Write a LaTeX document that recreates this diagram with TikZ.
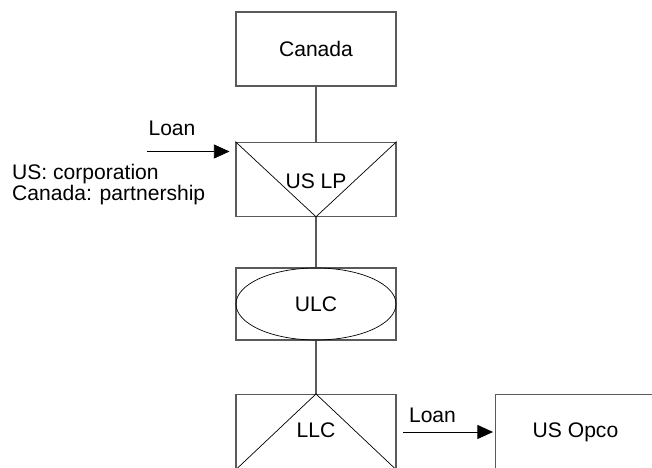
\documentclass[tikz,border=0pt]{standalone}
\usepackage{fontspec}
\setmainfont{Liberation Sans}
\usetikzlibrary{arrows.meta}
\tikzset{>={Triangle[length=0.31cm,width=0.28cm]}}
\definecolor{boxgray}{RGB}{90,90,90}
\tikzstyle{entity}=[draw=boxgray,line width=0.6pt,minimum width=3.2cm,minimum height=1.48cm,inner sep=0pt]
\tikzstyle{link}=[draw=boxgray,line width=0.6pt]
\tikzstyle{thinline}=[draw=black,line width=0.4pt]
\tikzstyle{loanline}=[draw=black,line width=0.4pt,->]

\begin{document}
\begin{tikzpicture}[font=\fontsize{12}{11}\selectfont]
  \useasboundingbox (0,0) rectangle (13.04,9.36);
  \node[entity] (canada) at (6.32,8.38) {Canada};
  \node[entity] (uslp) at (6.32,5.775) {};
  \node[entity,minimum height=1.44cm] (ulc) at (6.32,3.28) {};
  \node[entity,minimum height=1.5cm] (llc) at (6.32,0.72) {};
  \node[entity,minimum height=1.5cm] (usopco) at (11.51,0.72) {US Opco};

  \draw[link] (canada) -- (uslp);
  \draw[link] (uslp) -- (ulc);
  \draw[link] (ulc) -- (llc);

  % partnership / hybrid marks
  \draw[thinline] (uslp.north west) -- (uslp.south) -- (uslp.north east);
  \node (uslptext) at (6.32,5.73) {US LP};
  \draw[thinline] (ulc.center) ellipse (1.6 and 0.72);
  \node (ulctext) at (6.32,3.28) {ULC};
  \draw[thinline] (llc.south west) -- (llc.north) -- (llc.south east);
  \node (llctext) at (6.32,0.75) {LLC};

  % loans
  \coordinate (loanin) at (2.93,6.33);
  \draw[loanline,shorten >=0.12cm] (loanin) -- (loanin -| uslp.west);
  \node (loanleft) at (3.44,6.8) {Loan};
  \node[align=left,anchor=west] (treatment) at (0.12,5.67) {US: corporation\\Canada: partnership};
  \draw[loanline,shorten <=0.13cm,shorten >=0.04cm] (llc.east) -- (usopco.west);
  \node (loanright) at (8.65,1.06) {Loan};
\end{tikzpicture}
\end{document}
